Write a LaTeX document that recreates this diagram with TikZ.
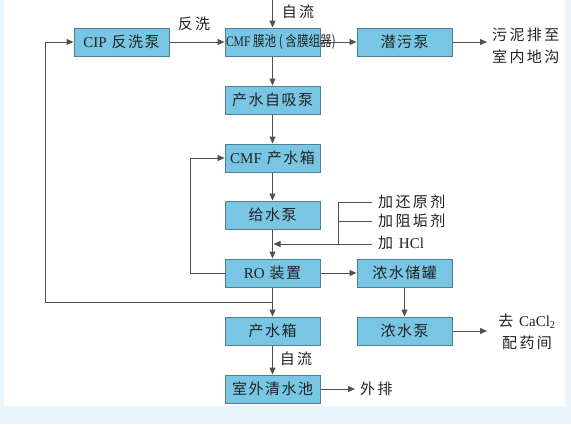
\documentclass[tikz,border=0pt]{standalone}
\usepackage{fontspec}
\setmainfont{Liberation Serif}
\newfontfamily\cjk{Noto Sans CJK SC}
\newfontfamily\cjkwide[LetterSpace=16]{Noto Sans CJK SC}
\newfontfamily\cjkbox[LetterSpace=10]{Noto Sans CJK SC}
\newfontfamily\cjknarrow[FakeStretch=0.8]{Noto Sans CJK SC}
\newfontfamily\rmnarrow[FakeStretch=0.8]{Liberation Serif}
\usetikzlibrary{arrows.meta}
\definecolor{bgout}{HTML}{EAF4FC}
\definecolor{boxfill}{HTML}{78C6E4}
\definecolor{boxline}{HTML}{4E7F94}
\definecolor{linec}{HTML}{505050}
\definecolor{txt}{HTML}{222222}
\begin{document}
\begin{tikzpicture}[x=1pt,y=-1pt,
  box/.style={draw=boxline,line width=1pt,fill=boxfill,minimum width=95pt,minimum height=28pt,inner sep=0pt,font=\fontsize{15}{15}\selectfont\cjkbox,text=txt},
  conn/.style={draw=linec,line width=1pt,-{Triangle[length=7pt,width=6pt]}},
  plainline/.style={draw=linec,line width=1pt},
  lbl/.style={font=\fontsize{15}{22}\selectfont\cjkwide,text=txt,inner sep=0pt}]
\fill[bgout] (0,0) rectangle (571,424);
\fill[white] (4,0) rectangle (565,406);
\useasboundingbox (0,0) rectangle (571,424);
% boxes
\node[box] (cip) at (121.5,42) {{\rmfamily CIP} 反洗泵};
\node[box,font=\fontsize{14.5}{14.5}\selectfont\cjknarrow] (cmf) at (272.5,42) {\makebox[0pt][l]{\hspace{-46.5pt}{\rmnarrow CMF} 膜池 ( 含膜组器)}};
\node[box] (qwb) at (404.5,42) {潜污泵};
\node[box] (zxb) at (272.5,100) {产水自吸泵};
\node[box] (cpx) at (272.5,158) {{\rmfamily CMF} 产水箱};
\node[box] (gsb) at (272.5,215) {给水泵};
\node[box] (ro) at (272.5,273) {{\rmfamily RO} 装置};
\node[box] (nscg) at (404.5,273) {浓水储罐};
\node[box] (csx) at (272.5,331) {产水箱};
\node[box] (nsb) at (404.5,331) {浓水泵};
\node[box] (swq) at (272.5,389) {室外清水池};
% coordinates
\coordinate (top) at (272.5,0);
\coordinate (out1) at (487,42);
\coordinate (out2) at (487,331);
\coordinate (out3) at (355,389);
\coordinate (c1) at (372,202);
\coordinate (c2) at (372,221);
\coordinate (c3) at (372,244);
\coordinate (vb) at (338,244);
\coordinate (inj) at (273.5,244);
\coordinate (fbL) at (190,273);
\coordinate (j) at (272.5,302);
\coordinate (bl) at (45,302);
% connectors
\draw[conn] (top) -- (cmf.north);
\draw[conn] (cip.east) -- (cmf.west);
\draw[conn] (cmf.east) -- (qwb.west);
\draw[conn] (qwb.east) -- (out1);
\draw[conn] (cmf.south) -- (zxb.north);
\draw[conn] (zxb.south) -- (cpx.north);
\draw[conn] (cpx.south) -- (gsb.north);
\draw[conn] (gsb.south) -- (ro.north);
\draw[plainline] (c1) -- (c1 -| vb) -- (vb);
\draw[plainline] (c2) -- (c2 -| vb);
\draw[conn] (c3) -- (inj);
\draw[conn] (ro.west) -- (fbL) |- (cpx.west);
\draw[conn] (ro.east) -- (nscg.west);
\draw[conn] (nscg.south) -- (nsb.north);
\draw[conn] (nsb.east) -- (out2);
\draw[conn] (ro.south) -- (csx.north);
\draw[conn] (j) -- (bl) |- (cip.west);
\draw[conn] (csx.south) -- (swq.north);
\draw[conn] (swq.east) -- (out3);
% labels
\node[lbl] (l1) at (298,12) {自流};
\node[lbl] (l2) at (194,24) {反洗};
\node[lbl,align=left,anchor=west] (l3) at (492,46) {污泥排至\\室内地沟};
\node[lbl,anchor=west] (l4) at (378,202) {加还原剂};
\node[lbl,anchor=west] (l5) at (378,221) {加阻垢剂};
\node[lbl,anchor=west] (l6) at (378,243) {加 {\rmfamily HCl}};
\node[lbl,align=center] (l7) at (527,332) {去 {\rmfamily CaCl\textsubscript{2}}\\配药间};
\node[lbl] (l8) at (296,359) {自流};
\node[lbl,anchor=west] (l9) at (360,389) {外排};
\end{tikzpicture}
\end{document}
